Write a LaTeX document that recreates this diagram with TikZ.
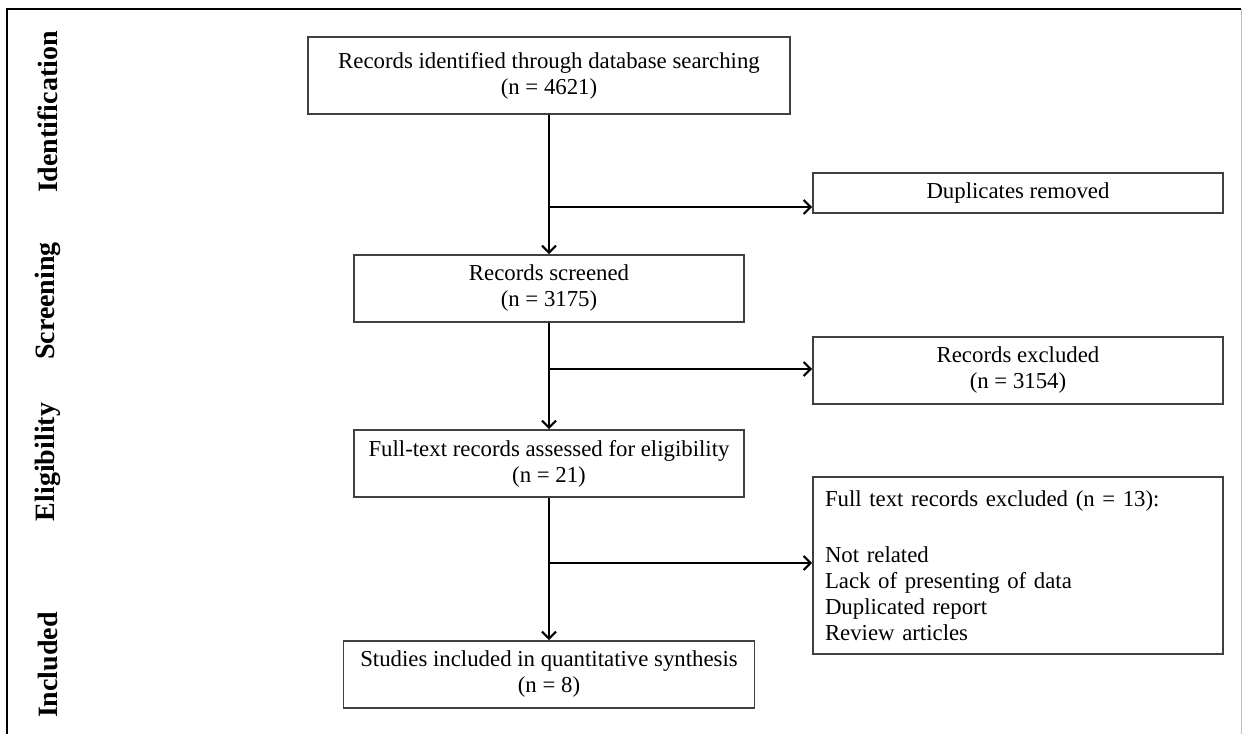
\documentclass[tikz,border=0pt]{standalone}
\usepackage{fontspec}
\setmainfont{Liberation Serif}
\usetikzlibrary{arrows.meta}
\begin{document}
\begin{tikzpicture}[x=0.5pt, y=-0.5pt, >={Straight Barb[length=3.5pt,width=7pt]},
    box/.style={draw=black!75, line width=0.8pt, minimum height=33.5pt, inner sep=0pt,
        align=center, font=\fontsize{11.4}{13}\selectfont},
    phase/.style={rotate=90, font=\fontsize{14}{16}\selectfont\bfseries},
    flow/.style={->, line width=1.1pt}]
    \useasboundingbox (0,0) rectangle (1242,734);
    \draw[line width=1.4pt] (7,734) -- (7,9) -- (1241,9);
    \draw[black!25, line width=0.5pt] (1241,9) -- (1241,734);
    % phases
    \foreach \name/\y/\txt in {pid/112/Identification, pscr/301/Screening,
                               pelig/462/Eligibility, pinc/665/Included}
        \node[phase] (\name) at (48,\y) {\txt};
    % main column
    \node[box, minimum width=241pt, minimum height=38.5pt] (ident) at (549,75.5)
        {Records identified through database searching\\(n = 4621)};
    \node[box, minimum width=195pt] (screen) at (549,288.5) {Records screened\\(n = 3175)};
    \node[box, minimum width=195pt] (full) at (549,463.5)
        {Full-text records assessed for eligibility\\(n = 21)};
    \node[box, minimum width=205.5pt] (incl) at (549,674.5)
        {Studies included in quantitative synthesis\\(n = 8)};
    % side column
    \node[box, minimum width=205pt, minimum height=20pt] (dupl) at (1018,193) {Duplicates removed};
    \node[box, minimum width=205pt] (excl) at (1018,370.5) {Records excluded\\(n = 3154)};
    \node[box, minimum height=88.5pt, inner xsep=6pt, text width=193pt, align=left] (ftexcl) at (1018,565.5)
        {Full text records excluded (n = 13):\\[15pt]
         Not related\\Lack of presenting of data\\Duplicated report\\Review articles\\[-4pt]};
    \coordinate (b1) at (549,207);
    \coordinate (b2) at (549,369);
    \coordinate (b3) at (549,563);
    \draw[flow] (ident) -- (screen);
    \draw[flow] (screen) -- (full);
    \draw[flow] (full) -- (incl);
    \draw[flow] (b1) -- (b1 -| dupl.west);
    \draw[flow] (b2) -- (b2 -| excl.west);
    \draw[flow] (b3) -- (b3 -| ftexcl.west);
\end{tikzpicture}
\end{document}
